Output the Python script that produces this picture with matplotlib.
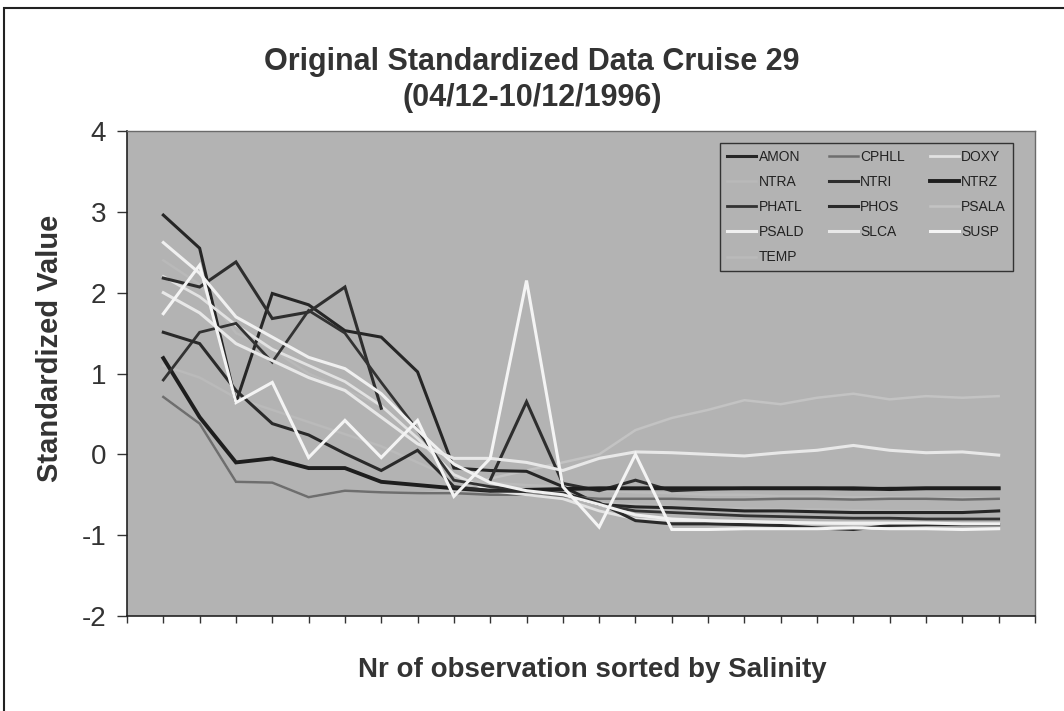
import numpy as np
import matplotlib
matplotlib.use("Agg")
import matplotlib.pyplot as plt
from matplotlib.patches import Rectangle

plt.rcParams['font.family'] = ['Liberation Sans', 'DejaVu Sans']

# ---- data ----
obs = list(range(1, 25))
nan = np.nan
AMON = [2.96, 2.55, 0.64, 1.99, 1.85, 1.53, 1.45, 1.02, -0.17, -0.20, -0.21, -0.40,
        -0.62, -0.65, -0.66, -0.68, -0.70, -0.70, -0.71, -0.72, -0.72, -0.72, -0.72, -0.70]
CPHLL = [0.71, 0.38, -0.34, -0.35, -0.53, -0.45, -0.47, -0.48, -0.48, -0.50, -0.50, -0.52,
         -0.55, -0.55, -0.55, -0.56, -0.56, -0.55, -0.55, -0.56, -0.55, -0.55, -0.56, -0.55]
DOXY = [2.20, 1.95, 1.60, 1.30, 1.10, 0.90, 0.60, 0.20, -0.25, -0.45, -0.50, -0.55,
        -0.70, -0.80, -0.82, -0.83, -0.84, -0.85, -0.85, -0.86, -0.86, -0.86, -0.87, -0.87]
NTRA = [2.40, 2.10, 1.50, 1.30, 1.00, 0.80, 0.60, 0.20, -0.30, -0.40, -0.45, -0.50,
        -0.60, -0.62, -0.65, -0.66, -0.67, -0.68, -0.68, -0.69, -0.70, -0.70, -0.70, -0.70]
NTRI = [2.18, 2.07, 2.38, 1.68, 1.76, 2.07, 0.57, nan, nan, -0.32, 0.65, -0.36,
        -0.45, -0.32, -0.45, -0.43, -0.42, -0.42, -0.42, -0.43, -0.42, -0.42, -0.42, -0.42]
NTRZ = [1.19, 0.46, -0.10, -0.05, -0.17, -0.17, -0.34, -0.38, -0.42, -0.45, -0.44, -0.43,
        -0.42, -0.42, -0.42, -0.42, -0.42, -0.42, -0.42, -0.42, -0.43, -0.42, -0.42, -0.42]
PHATL = [0.92, 1.51, 1.62, 1.14, 1.78, 1.50, 0.89, 0.30, -0.32, -0.40, -0.45, -0.50,
         -0.62, -0.70, -0.72, -0.74, -0.76, -0.77, -0.78, -0.79, -0.79, -0.80, -0.80, -0.80]
PHOS = [1.51, 1.37, 0.79, 0.38, 0.24, 0.01, -0.20, 0.05, -0.40, -0.45, -0.46, -0.48,
        -0.60, -0.82, -0.86, -0.86, -0.87, -0.88, -0.91, -0.93, -0.88, -0.87, -0.87, -0.87]
PSALA = [0.71, 0.38, -0.34, -0.35, -0.53, -0.45, -0.47, -0.48, -0.45, -0.30, -0.20, -0.10,
         0.00, 0.30, 0.45, 0.55, 0.67, 0.62, 0.70, 0.75, 0.68, 0.72, 0.70, 0.72]
PSALD = [2.62, 2.24, 1.70, 1.45, 1.20, 1.06, 0.75, 0.30, -0.12, -0.35, -0.45, -0.50,
         -0.62, -0.75, -0.80, -0.82, -0.83, -0.84, -0.85, -0.85, -0.85, -0.85, -0.86, -0.86]
SLCA = [2.00, 1.75, 1.37, 1.16, 0.95, 0.79, 0.46, 0.13, -0.05, -0.05, -0.10, -0.20,
        -0.05, 0.03, 0.02, 0.00, -0.02, 0.02, 0.05, 0.11, 0.05, 0.02, 0.03, -0.01]
SUSP = [1.74, 2.34, 0.64, 0.89, -0.04, 0.42, -0.04, 0.42, -0.52, -0.05, 2.15, -0.40,
        -0.90, 0.00, -0.93, -0.93, -0.92, -0.92, -0.92, -0.91, -0.92, -0.92, -0.93, -0.92]
TEMP = [1.10, 0.95, 0.70, 0.55, 0.40, 0.25, 0.10, -0.10, -0.30, -0.35, -0.38, -0.40,
        -0.45, -0.47, -0.48, -0.50, -0.50, -0.52, -0.52, -0.53, -0.53, -0.54, -0.54, -0.54]

series_names = ["AMON", "CPHLL", "DOXY", "NTRA", "NTRI", "NTRZ", "PHATL",
                "PHOS", "PSALA", "PSALD", "SLCA", "SUSP", "TEMP"]
series_values = [AMON, CPHLL, DOXY, NTRA, NTRI, NTRZ, PHATL,
                 PHOS, PSALA, PSALD, SLCA, SUSP, TEMP]
series_colors = ["#262626", "#6e6e6e", "#e2e2e2", "#b9b9b9", "#2e2e2e", "#1e1e1e", "#333333",
                 "#2a2a2a", "#c3c3c3", "#f0f0f0", "#e8e8e8", "#f4f4f4", "#bababa"]
series_widths = [2.2, 1.8, 2.0, 1.8, 2.2, 2.8, 2.0, 2.2, 1.8, 2.2, 2.2, 2.2, 1.8]
draw_order = ["PSALA", "NTRA", "TEMP", "AMON", "CPHLL", "DOXY", "NTRI", "NTRZ",
              "PHATL", "PHOS", "PSALD", "SLCA", "SUSP"]

title = "Original Standardized Data Cruise 29\n(04/12-10/12/1996)"
xlabel = "Nr of observation sorted by Salinity"
ylabel = "Standardized Value"
yticks = [-2, -1, 0, 1, 2, 3, 4]

W, H = 1064, 711
fig = plt.figure(figsize=(W / 100, H / 100), dpi=100)
fig.patch.set_facecolor("white")

ax = fig.add_axes([127 / W, (H - 616) / H, (1035 - 127) / W, (616 - 131) / H])
bg = "#b3b3b3"
ax.set_facecolor(bg)

handles = {}
for name, vals, col, lw in zip(series_names, series_values, series_colors, series_widths):
    ln, = ax.plot(obs, vals, color=col, lw=lw, label=name, solid_joinstyle="miter",
                  zorder=2 + draw_order.index(name) * 0.01)
    handles[name] = ln

ax.set_xlim(0, 25)
ax.set_ylim(-2, 4)
ax.set_xticks(range(0, 26))
ax.set_xticklabels([])
ax.set_yticks(yticks)
ax.set_yticklabels([str(v) for v in yticks], fontsize=20)
ax.tick_params(axis="y", direction="out", length=7, width=1, color="#333333", pad=8)
ax.tick_params(axis="x", direction="out", length=5, width=1, color="#333333")
for side in ["left", "bottom"]:
    ax.spines[side].set_color("#222222")
    ax.spines[side].set_linewidth(1.2)
for side in ["top", "right"]:
    ax.spines[side].set_color("#6a6a6a")
    ax.spines[side].set_linewidth(1.0)

# legend (row-major order via column-wise split)
order = ["AMON", "NTRA", "PHATL", "PSALD", "TEMP",
         "CPHLL", "NTRI", "PHOS", "SLCA",
         "DOXY", "NTRZ", "PSALA", "SUSP"]
leg = ax.legend([handles[n] for n in order], order, ncol=3,
                loc="upper right",
                bbox_to_anchor=((1013 - 127) / 908, (616 - 143) / 485),
                fontsize=10, frameon=True, fancybox=False, shadow=False,
                facecolor=bg, edgecolor="#333333", framealpha=1,
                handlelength=2.1, handletextpad=0.15, columnspacing=1.8,
                labelspacing=0.8, borderpad=0.5, borderaxespad=0)
leg.get_frame().set_linewidth(1.0)
leg.set_zorder(5)
for t in leg.get_texts():
    t.set_color("#222222")

fig.text(532 / W, 1 - 80 / H, title, ha="center", va="center", fontsize=22,
         fontweight="bold", color="#333333", linespacing=1.3)
fig.text(50 / W, 1 - 348 / H, ylabel, ha="center", va="center", rotation=90,
         fontsize=21, fontweight="bold", color="#333333")
fig.text(592 / W, 1 - 670 / H, xlabel, ha="center", va="center", fontsize=20,
         fontweight="bold", color="#333333")
for lab in ax.get_yticklabels():
    lab.set_color("#333333")

# outer chart frame
fig.add_artist(Rectangle((4 / W, -0.05), 1.2, 1 - 8 / H + 0.05, transform=fig.transFigure,
                         fill=False, edgecolor="#222222", linewidth=1.5, clip_on=False))

fig.savefig("out.png", dpi=100, facecolor="white")
